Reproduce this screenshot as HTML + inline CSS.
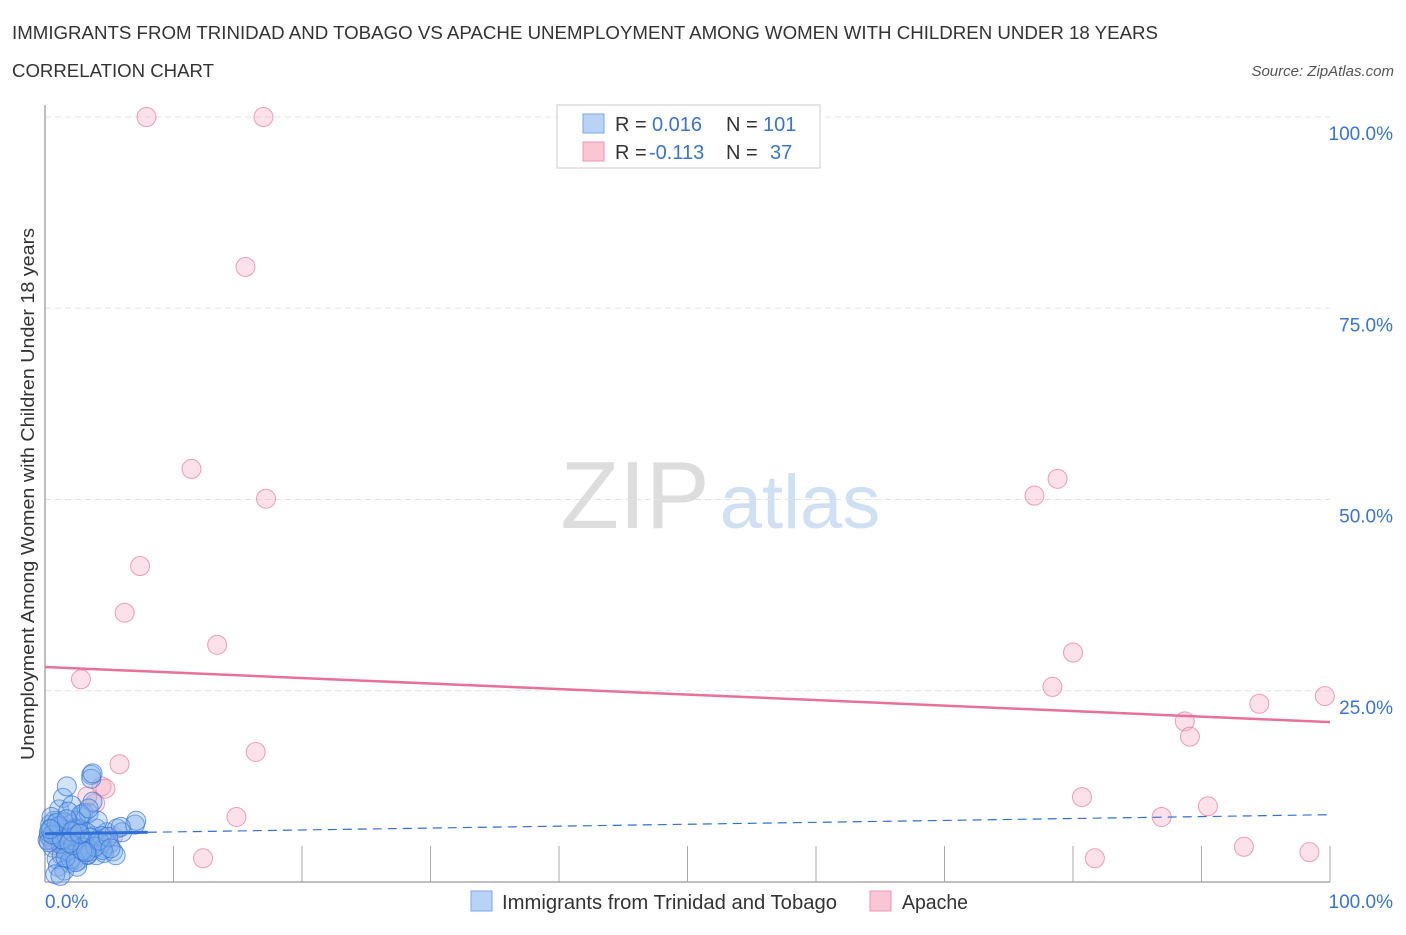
<!DOCTYPE html>
<html><head><meta charset="utf-8"><style>
body{margin:0;background:#fff;font-family:"Liberation Sans",sans-serif;}
svg text{font-family:"Liberation Sans",sans-serif;}
</style></head><body>
<svg width="1406" height="930" xmlns="http://www.w3.org/2000/svg">
<text x="12" y="39" font-size="18" fill="#333" textLength="1146" lengthAdjust="spacingAndGlyphs">IMMIGRANTS FROM TRINIDAD AND TOBAGO VS APACHE UNEMPLOYMENT AMONG WOMEN WITH CHILDREN UNDER 18 YEARS</text>
<text x="12" y="77" font-size="18" fill="#333" textLength="202" lengthAdjust="spacingAndGlyphs">CORRELATION CHART</text>
<text x="1394" y="76" font-size="15" fill="#555" font-style="italic" text-anchor="end">Source: ZipAtlas.com</text>
<g>
<text x="635" y="528" font-size="96" fill="#ddd" text-anchor="middle" font-family="Liberation Serif">ZIP</text>
<text x="800" y="528" font-size="76" fill="#cfe0f3" text-anchor="middle">atlas</text>
</g>
<g id="grid"></g>
<g id="axes"></g>
<g id="marks"></g>
<text transform="translate(34,494) rotate(-90)" font-size="18" fill="#333" text-anchor="middle" textLength="532" lengthAdjust="spacingAndGlyphs">Unemployment Among Women with Children Under 18 years</text>
<g>
<rect x="557" y="105" width="263" height="63" fill="#fff" stroke="#ccc"/>
<rect x="583" y="114" width="21" height="19" fill="#b9d3f5" stroke="#7aa9e6"/>
<rect x="583" y="142" width="21" height="19" fill="#f9c6d5" stroke="#ee95b0"/>
<text x="615" y="131" font-size="20" fill="#333">R = </text><text x="652" y="131" font-size="20" fill="#3a73d0">0.016</text>
<text x="726" y="131" font-size="20" fill="#333">N = </text><text x="763" y="131" font-size="20" fill="#3a73d0">101</text>
<text x="615" y="159" font-size="20" fill="#333">R = </text><text x="649" y="159" font-size="20" fill="#3a73d0">-0.113</text>
<text x="726" y="159" font-size="20" fill="#333">N = </text><text x="770" y="159" font-size="20" fill="#3a73d0">37</text>
</g>
<g>
<rect x="471" y="891" width="21" height="20" fill="#b9d3f5" stroke="#7aa9e6"/>
<text x="502" y="909" font-size="20" fill="#333" textLength="335" lengthAdjust="spacingAndGlyphs">Immigrants from Trinidad and Tobago</text>
<rect x="870" y="891" width="21" height="20" fill="#f9c6d5" stroke="#ee95b0"/>
<text x="902" y="909" font-size="20" fill="#333" textLength="66" lengthAdjust="spacingAndGlyphs">Apache</text>
</g>
</svg>
<script>
const yTicks=[25,50,75,100];
const yTickLabels=["25.0%","50.0%","75.0%","100.0%"];
const xTickLabels=["0.0%","100.0%"];
const blueX=[0.3,0.5,0.8,1.0,1.2,1.5,1.8,2.0,2.2,2.5,2.8,3.0,3.3,3.5,3.8,4.0,4.3,4.5,4.8,5.0,5.3,5.6,6.0,0.4,0.7,1.1,1.4,1.7,2.1,2.4,2.7,3.1,3.4,3.7,4.1,4.4,0.6,0.9,1.3,1.6,1.9,2.3,2.6,2.9,3.2,3.6,1.0,1.5,2.0,2.5,3.0,3.5,4.0,1.2,1.8,2.2,3.6,3.7,7.0,7.1,5.9,0.2,0.3,0.5,1.0,1.4,2.0,2.6,3.0,1.6,2.4,0.8,1.2,4.6,5.5,0.5,1.5,2.5,3.5,4.5,1.8,2.8,0.3,0.6,1.1,1.3,2.2,3.3,3.9,4.2,0.9,1.7,2.1,2.9,3.2,4.9,5.1,0.4,1.9,2.7,3.4];
const blueY=[6,5.5,7,8,6.5,5,4,7.5,6,5,8.5,9,3.5,4.5,6,7,5,4.5,6.5,5,4,7,6.5,7.5,8,9.5,11,12.5,10,8,6,5,9,10.5,8,6,4.5,3,3.5,4,2.5,3,2.8,5.5,6.5,14,2,1.5,3,2,4.5,4,3.5,5,6,7,13.5,14.2,7.5,8,7.2,5.5,6.5,7,6,5.5,6,7,4,3.2,2.6,1,0.8,3.8,3.5,8.5,7.8,6.8,5.8,4.2,9.2,8.8,5.2,6.2,7.3,5.6,4.8,3.6,4.6,5.4,7.7,8.2,6.6,4.1,3.9,5.9,4.4,6.9,5.1,6.3,9.6];
const pinkX=[7.9,17.0,15.6,11.4,17.2,7.4,6.2,13.4,2.8,16.4,5.8,4.4,4.7,3.9,3.3,14.9,12.3,5.3,78.8,77.0,80.0,78.4,88.7,89.1,94.5,99.6,80.7,86.9,90.5,81.7,93.3,98.4,0.4,1.2,2.0,0.8,1.6];
const pinkY=[100,100,80.4,54,50.1,41.3,35.2,31,26.5,17,15.4,12.5,12.2,10.3,11.2,8.5,3.1,6,52.7,50.5,30,25.5,21,19,23.3,24.3,11.1,8.5,9.9,3.1,4.6,3.9,5.8,6.8,7.5,4.8,5.5];
const blueTrend=[6.3,8.8];
const pinkTrend=[28.1,20.9];
const X0=45,X1=1330,Y0=882,Y100=117;
const sx=v=>X0+v*(X1-X0)/100, sy=v=>Y0-v*(Y0-Y100)/100;
const NS="http://www.w3.org/2000/svg";
function mk(tag,attrs,parent){const e=document.createElementNS(NS,tag);for(const k in attrs)e.setAttribute(k,attrs[k]);document.getElementById(parent).appendChild(e);return e;}
yTicks.forEach((t,i)=>{
 const g=mk('line',{x1:X0,x2:X1,y1:sy(t),y2:sy(t),stroke:'#e2e2e2','stroke-dasharray':'6,4'},'grid');
 
 
 const l=mk('text',{x:1393,y:sy(t)+23,'font-size':19,fill:'#3a73d0','text-anchor':'end'},'axes');l.textContent=yTickLabels[i];
 
 
});
const ya=mk('line',{x1:X0,x2:X0,y1:105,y2:Y0,stroke:'#aaa','stroke-width':1.5},'axes');


const xa=mk('line',{x1:X0,x2:X1,y1:Y0,y2:Y0,stroke:'#aaa','stroke-width':1.5},'axes');


for(let i=0;i<=10;i++){const t=mk('line',{x1:sx(i*10),x2:sx(i*10),y1:846,y2:Y0,stroke:'#aaa'},'axes');
 
 }
[[0,'start',45],[100,'end',1393]].forEach((d,i)=>{const l=mk('text',{x:d[2],y:908,'font-size':19,fill:'#3a73d0','text-anchor':d[1]},'axes');l.textContent=xTickLabels[i];
 
 });
pinkX.forEach((x,i)=>{const c=mk('circle',{cx:sx(x),cy:sy(pinkY[i]),r:9.5,fill:'rgba(246,170,195,0.35)',stroke:'rgba(232,120,155,0.7)','stroke-width':1},'marks');
 
 });
blueX.forEach((x,i)=>{const c=mk('circle',{cx:sx(x),cy:sy(blueY[i]),r:9.5,fill:'rgba(130,175,235,0.35)',stroke:'rgba(50,115,215,0.7)','stroke-width':1},'marks');
 
 });
const bAt=v=>blueTrend[0]+(blueTrend[1]-blueTrend[0])*v/100;
const b1=mk('line',{x1:sx(0),y1:sy(bAt(0)),x2:sx(8),y2:sy(bAt(8)),stroke:'#2f6fd6','stroke-width':3},'marks');


const b2=mk('line',{x1:sx(8),y1:sy(bAt(8)),x2:sx(100),y2:sy(bAt(100)),stroke:'#2f6fd6','stroke-width':1.2,'stroke-dasharray':'9,6'},'marks');


const p=mk('line',{x1:sx(0),y1:sy(pinkTrend[0]),x2:sx(100),y2:sy(pinkTrend[1]),stroke:'#e8709a','stroke-width':2.5},'marks');


</script>
</body></html>
